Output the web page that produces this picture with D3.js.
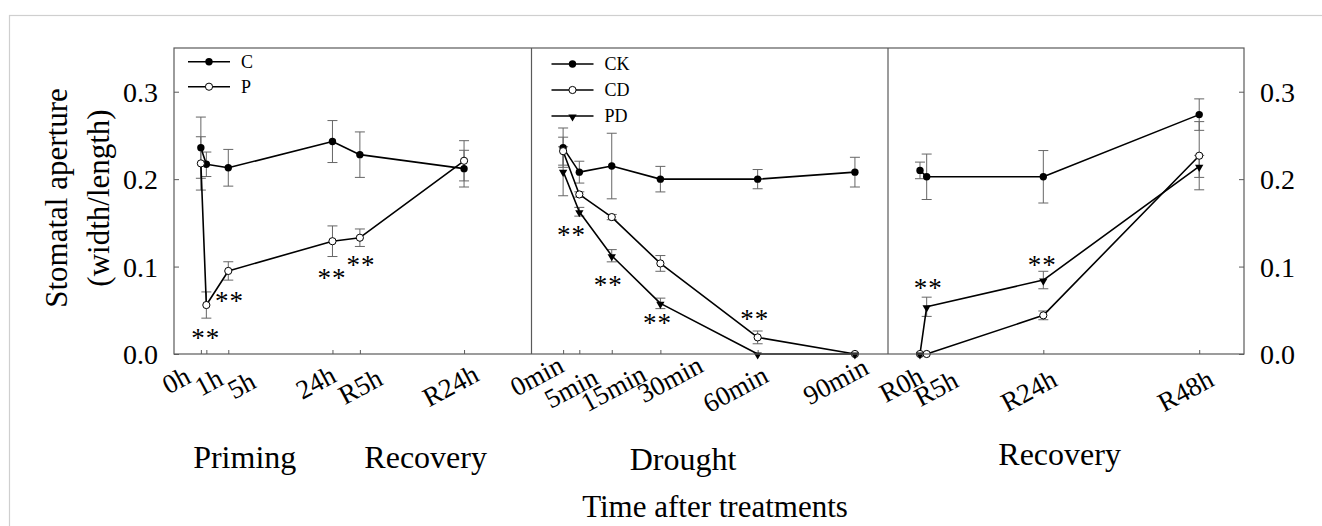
<!DOCTYPE html>
<html><head><meta charset="utf-8">
<script src="https://cdn.jsdelivr.net/npm/d3@7"></script>
<style>
html,body{margin:0;padding:0;background:#fff;}
svg{display:block;font-family:"Liberation Serif","Times New Roman",serif;}
</style>
</head><body>
<svg id="chart" width="1322" height="526"></svg>
<script>
// ---------------- DATA ----------------
// Panel 1: priming
const primingLabels = ["0h","1h","5h","24h","R5h","R24h"];
const primingTimes  = [0, 1, 5, 24, 29, 48];
const primingC      = [0.236, 0.217, 0.213, 0.243, 0.228, 0.212];
const primingCErr   = [0.035, 0.014, 0.021, 0.024, 0.026, 0.021];
const primingP      = [0.218, 0.056, 0.095, 0.129, 0.133, 0.221];
const primingPErr   = [0.0305, 0.015, 0.0105, 0.0175, 0.010, 0.023];
const primingStarX  = [0.9, 5.2, 23.9, 29.2];
const primingStarY  = [0.0237, 0.0664, 0.0924, 0.1077];

// Panel 2: drought
const droughtLabels = ["0min","5min","15min","30min","60min","90min"];
const droughtTimes  = [0, 5, 15, 30, 60, 90];
const droughtCK     = [0.236, 0.208, 0.215, 0.200, 0.200, 0.208];
const droughtCKErr  = [0.0225, 0.0125, 0.0375, 0.0146, 0.011, 0.017];
const droughtCD     = [0.232, 0.1825, 0.1566, 0.1036, 0.019, 0.0];
const droughtCDErr  = [0.016, 0.003, 0.003, 0.009, 0.0073, 0];
const droughtPD     = [0.209, 0.1627, 0.1124, 0.0579, 0.0, 0.0];
const droughtPDErr  = [0.028, 0.005, 0.007, 0.006, 0, 0];
const droughtStarX  = [2.6, 13.9, 29.1, 59.1];
const droughtStarY  = [0.142, 0.0848, 0.0409, 0.0458];

// Panel 3: recovery
const recoveryLabels = ["R0h","R5h","R24h","R48h"];
const recoveryTimes  = [0, 1.15, 21.2, 48];
const recoveryCK     = [0.210, 0.2027, 0.2027, 0.2738];
const recoveryCKErr  = [0.0095, 0.026, 0.030, 0.018];
const recoveryCD     = [0.0, 0.0, 0.0442, 0.2268];
const recoveryCDErr  = [0, 0, 0.005, 0.039];
const recoveryPD     = [0.0, 0.054, 0.0846, 0.2146];
const recoveryPDErr  = [0, 0.011, 0.010, 0.0126];
const recoveryStarX  = [1.4, 21.0];
const recoveryStarY  = [0.081, 0.1077];

const yTicks = [0, 0.1, 0.2, 0.3];
const yTitle = ["Stomatal aperture", "(width/length)"];
const xTitle = "Time after treatments";

// ---------------- LAYOUT ----------------
const svg = d3.select("#chart");
const plotTop = 48, plotBottom = 354;
const frameL = 174, div1 = 531.5, div2 = 888, frameR = 1244;

const y = d3.scaleLinear().domain([0, 0.35]).range([plotBottom, plotTop]);

// outer light border
svg.append("rect").attr("x", 9.5).attr("y", 15.5).attr("width", 1400).attr("height", 600)
  .attr("fill", "none").attr("stroke", "#cfcfcf").attr("stroke-width", 1.2);

const panels = [
  { labels: primingLabels, times: primingTimes, domain: [-4.9, 60.3], range: [frameL, div1],
    series: [
      { name: "C", values: primingC, err: primingCErr, mark: "filled" },
      { name: "P", values: primingP, err: primingPErr, mark: "open" } ],
    starX: primingStarX, starY: primingStarY,
    nudge: [[-24, -1], [3, 1], [14, 4], [-10, -2], [9, 1], [1, -3]],
    legend: { x: 188, y0: 61.7, dy: 25 },
    cats: [["Priming", 8, 468], ["Recovery", 41, 468]] },
  { labels: droughtLabels, times: droughtTimes, domain: [-9.75, 100.2], range: [div1, div2],
    series: [
      { name: "CK", values: droughtCK, err: droughtCKErr, mark: "filled" },
      { name: "CD", values: droughtCD, err: droughtCDErr, mark: "open" },
      { name: "PD", values: droughtPD, err: droughtPDErr, mark: "tri" } ],
    starX: droughtStarX, starY: droughtStarY,
    nudge: [[-13, -12], [5, 0], [21, -3], [29, -12], [-3, -2], [0, -10]],
    legend: { x: 551.5, y0: 64, dy: 26 },
    cats: [["Drought", 37, 470]] },
  { labels: recoveryLabels, times: recoveryTimes, domain: [-5.5, 55.7], range: [div2, frameR],
    series: [
      { name: "CK", values: recoveryCK, err: recoveryCKErr, mark: "filled" },
      { name: "CD", values: recoveryCD, err: recoveryCDErr, mark: "open" },
      { name: "PD", values: recoveryPD, err: recoveryPDErr, mark: "tri" } ],
    starX: recoveryStarX, starY: recoveryStarY,
    nudge: [[-10, -1], [18, 3], [0, 2], [1, 2]],
    legend: null,
    cats: [["Recovery", 24, 465]] }
];

const frameColor = "#5a5a5a";
const errColor = "#666";

function drawMarker(g, type, cx, cy) {
  if (type === "filled") {
    g.append("circle").attr("cx", cx).attr("cy", cy).attr("r", 3.7).attr("fill", "#000");
  } else if (type === "open") {
    g.append("circle").attr("cx", cx).attr("cy", cy).attr("r", 3.6)
      .attr("fill", "#fff").attr("stroke", "#000").attr("stroke-width", 1);
  } else {
    g.append("path").attr("d", d3.symbol(d3.symbolTriangle, 30)())
      .attr("transform", `translate(${cx},${cy + 0.8}) rotate(180)`).attr("fill", "#000");
  }
}

panels.forEach(p => {
  const x = d3.scaleLinear().domain(p.domain).range(p.range);
  const g = svg.append("g");

  // x axis ticks (inward)
  const ax = g.append("g").attr("transform", `translate(0,${plotBottom})`)
    .call(d3.axisBottom(x).tickValues(p.times).tickSizeInner(-4).tickSizeOuter(0)
      .tickFormat((d, i) => p.labels[i]));
  ax.select(".domain").remove();
  ax.selectAll(".tick line").attr("stroke", frameColor);
  ax.selectAll(".tick text")
    .attr("x", 0).attr("y", 0).attr("dy", null)
    .attr("text-anchor", "end")
    .attr("font-size", 27).attr("fill", "#000")
    .attr("font-family", "Liberation Serif, Times New Roman, serif")
    .attr("transform", (d, i) => `translate(${15 + p.nudge[i][0]},${29 + p.nudge[i][1]}) rotate(-28)`);

  // error bars
  p.series.forEach(s => {
    s.values.forEach((v, i) => {
      const e = s.err[i];
      if (!e) return;
      const cx = x(p.times[i]);
      const y1 = y(v + e), y2 = y(v - e);
      g.append("line").attr("x1", cx).attr("x2", cx).attr("y1", y1).attr("y2", y2)
        .attr("stroke", errColor).attr("stroke-width", 1);
      [y1, y2].forEach(yy => g.append("line").attr("x1", cx - 5).attr("x2", cx + 5)
        .attr("y1", yy).attr("y2", yy).attr("stroke", errColor).attr("stroke-width", 1));
    });
  });

  // lines
  p.series.forEach(s => {
    const line = d3.line().x((d, i) => x(p.times[i])).y(d => y(d));
    g.append("path").attr("d", line(s.values)).attr("fill", "none")
      .attr("stroke", "#000").attr("stroke-width", 1.6).attr("stroke-linejoin", "round");
  });

  // markers
  p.series.forEach(s => {
    s.values.forEach((v, i) => drawMarker(g, s.mark, x(p.times[i]), y(v)));
  });

  // significance stars
  p.starX.forEach((sx, i) => {
    g.append("text").attr("x", x(sx)).attr("y", y(p.starY[i]) + 14)
      .attr("text-anchor", "middle").attr("font-size", 27).attr("fill", "#000")
      .attr("letter-spacing", 1).text("**");
  });

  // legend
  if (p.legend) {
    p.series.forEach((s, i) => {
      const ly = p.legend.y0 + i * p.legend.dy;
      g.append("line").attr("x1", p.legend.x).attr("x2", p.legend.x + 42)
        .attr("y1", ly).attr("y2", ly).attr("stroke", "#000").attr("stroke-width", 1.5);
      drawMarker(g, s.mark, p.legend.x + 21, ly);
      g.append("text").attr("x", p.legend.x + 53).attr("y", ly + 6)
        .attr("font-size", 18).attr("fill", "#000").text(s.name);
    });
  }

  // category labels
  p.cats.forEach(c => {
    g.append("text").attr("x", x(c[1])).attr("y", c[2]).attr("text-anchor", "middle")
      .attr("font-size", 32).attr("fill", "#000").text(c[0]);
  });
});

// frame and dividers
svg.append("rect").attr("x", frameL).attr("y", plotTop).attr("width", frameR - frameL)
  .attr("height", plotBottom - plotTop).attr("fill", "none").attr("stroke", frameColor).attr("stroke-width", 1.2);
[div1, div2].forEach(dx => svg.append("line").attr("x1", dx).attr("x2", dx)
  .attr("y1", plotTop).attr("y2", plotBottom).attr("stroke", frameColor).attr("stroke-width", 1.2));

// y axes
const fmt = d3.format(".1f");
const yl = svg.append("g").attr("transform", `translate(${frameL},0)`)
  .call(d3.axisLeft(y).tickValues(yTicks).tickFormat(fmt).tickSizeInner(-5).tickSizeOuter(0).tickPadding(16));
const yr = svg.append("g").attr("transform", `translate(${frameR},0)`)
  .call(d3.axisRight(y).tickValues(yTicks).tickFormat(fmt).tickSizeInner(-5).tickSizeOuter(0).tickPadding(16));
[yl, yr].forEach(a => {
  a.select(".domain").remove();
  a.selectAll(".tick line").attr("stroke", frameColor);
  a.selectAll(".tick text").attr("font-size", 28).attr("fill", "#000")
    .attr("font-family", "Liberation Serif, Times New Roman, serif")
    .attr("dy", "0.34em");
});

// y title
const yt = svg.append("text").attr("transform", "translate(67,198) rotate(-90)")
  .attr("text-anchor", "middle").attr("font-size", 31).attr("fill", "#000");
yt.append("tspan").attr("x", 0).attr("y", 0).text(yTitle[0]);
yt.append("tspan").attr("x", 0).attr("y", 42).text(yTitle[1]);

// x title
svg.append("text").attr("x", 715).attr("y", 517).attr("text-anchor", "middle")
  .attr("font-size", 31).attr("fill", "#000").text(xTitle);
</script>
</body></html>
